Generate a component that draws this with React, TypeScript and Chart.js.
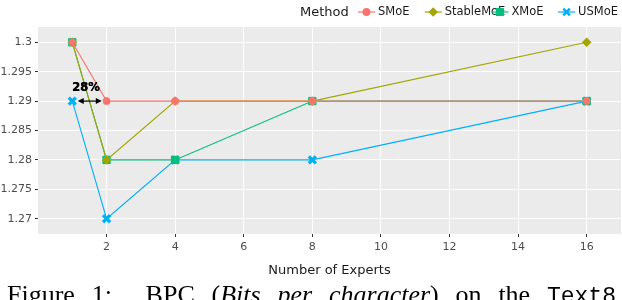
import React, { useEffect, useRef } from 'react';
import { Chart, registerables } from 'chart.js';

Chart.register(...registerables);

// ---- data ----
const experts = [1, 2, 4, 8, 16];
const smoe = [1.3, 1.29, 1.29, 1.29, 1.29];
const stablemoe = [1.3, 1.28, 1.29, 1.29, 1.3];
const xmoe = [1.3, 1.28, 1.28, 1.29, 1.29];
const usmoe = [1.29, 1.27, 1.28, 1.28, 1.29];
const methods = ['SMoE', 'StableMoE', 'XMoE', 'USMoE'];
const seriesValues = [smoe, stablemoe, xmoe, usmoe];
const colors = ['#F8766D', '#A3A500', '#00BF7D', '#00B0F6'];
const pointStyles = ['circle', 'rectRot', 'rect', 'crossRot'];
const xTicks = [2, 4, 6, 8, 10, 12, 14, 16];
const yTicks = [1.27, 1.275, 1.28, 1.285, 1.29, 1.295, 1.3];
const legendTitle = 'Method';
const xTitle = 'Number of Experts';
const annotationText = '28%';
const annotationArrow = [1.16, 1.86];
const annotationY = 1.29;
const annotationLabel = [1.39, 1.2923];

const FONT = '"DejaVu Sans", Verdana, sans-serif';

const bgPlugin = {
  id: 'ggBackground',
  beforeDraw(chart: any) {
    const { ctx, chartArea: a } = chart;
    ctx.save();
    ctx.fillStyle = '#EBEBEB';
    ctx.fillRect(a.left, a.top, a.right - a.left, a.bottom - a.top);
    ctx.restore();
  },
};

function drawMarker(ctx: any, style: string, x: number, y: number, color: string) {
  ctx.save();
  ctx.fillStyle = color;
  ctx.strokeStyle = color;
  ctx.beginPath();
  if (style === 'circle') {
    ctx.arc(x, y, 4, 0, Math.PI * 2);
    ctx.fill();
  } else if (style === 'rectRot') {
    ctx.moveTo(x, y - 4.7);
    ctx.lineTo(x + 4.7, y);
    ctx.lineTo(x, y + 4.7);
    ctx.lineTo(x - 4.7, y);
    ctx.closePath();
    ctx.fill();
  } else if (style === 'rect') {
    ctx.fillRect(x - 4, y - 4, 8, 8);
  } else {
    ctx.lineWidth = 2.5;
    const r = 3.3;
    ctx.moveTo(x - r, y - r);
    ctx.lineTo(x + r, y + r);
    ctx.moveTo(x + r, y - r);
    ctx.lineTo(x - r, y + r);
    ctx.stroke();
  }
  ctx.restore();
}

const legendPlugin = {
  id: 'ggLegend',
  afterDraw(chart: any) {
    const ctx = chart.ctx;
    ctx.save();
    ctx.textBaseline = 'middle';
    ctx.textAlign = 'left';
    ctx.fillStyle = '#1a1a1a';
    ctx.font = `13px ${FONT}`;
    ctx.fillText(legendTitle, 300, 12.5);
    ctx.font = `11.5px ${FONT}`;
    methods.forEach((m, i) => {
      const kx = 358 + i * 66.7;
      const ky = 12;
      ctx.strokeStyle = colors[i];
      ctx.lineWidth = 1.2;
      ctx.beginPath();
      ctx.moveTo(kx, ky);
      ctx.lineTo(kx + 17, ky);
      ctx.stroke();
      drawMarker(ctx, pointStyles[i], kx + 8.5, ky, colors[i]);
      ctx.fillStyle = '#1a1a1a';
      ctx.fillText(m, kx + 20, ky + 0.5);
    });
    ctx.restore();
  },
};

const annotationPlugin = {
  id: 'ggAnnotation',
  afterDatasetsDraw(chart: any) {
    const { ctx, scales } = chart;
    const x1 = scales.x.getPixelForValue(annotationArrow[0]);
    const x2 = scales.x.getPixelForValue(annotationArrow[1]);
    const y = scales.y.getPixelForValue(annotationY);
    ctx.save();
    ctx.strokeStyle = '#000';
    ctx.fillStyle = '#000';
    ctx.lineWidth = 1.2;
    ctx.beginPath();
    ctx.moveTo(x1 + 2, y);
    ctx.lineTo(x2 - 2, y);
    ctx.stroke();
    ctx.beginPath();
    ctx.moveTo(x1, y);
    ctx.lineTo(x1 + 6, y - 3);
    ctx.lineTo(x1 + 6, y + 3);
    ctx.closePath();
    ctx.fill();
    ctx.beginPath();
    ctx.moveTo(x2, y);
    ctx.lineTo(x2 - 6, y - 3);
    ctx.lineTo(x2 - 6, y + 3);
    ctx.closePath();
    ctx.fill();
    ctx.font = `bold 11.5px ${FONT}`;
    ctx.textAlign = 'center';
    ctx.textBaseline = 'middle';
    const lx = scales.x.getPixelForValue(annotationLabel[0]);
    const ly = scales.y.getPixelForValue(annotationLabel[1]);
    ctx.fillText(annotationText, lx, ly);
    ctx.fillText(annotationText, lx + 0.5, ly);
    ctx.restore();
  },
};

export default function App() {
  const canvasRef = useRef<HTMLCanvasElement | null>(null);

  useEffect(() => {
    if (!canvasRef.current) return;
    const datasets = methods.map((m, i) => ({
      label: m,
      data: experts.map((x, j) => ({ x, y: seriesValues[i][j] })),
      borderColor: colors[i],
      backgroundColor: colors[i],
      borderWidth: 1.1,
      pointStyle: pointStyles[i],
      pointRadius: i === 0 ? 3.5 : i === 1 ? 4.3 : i === 2 ? 5.2 : 5,
      pointBorderWidth: i === 3 ? 3.2 : 1,
      pointBackgroundColor: colors[i],
      pointBorderColor: colors[i],
      fill: false,
      tension: 0,
    }));

    const chart = new Chart(canvasRef.current, {
      type: 'line',
      data: { datasets },
      plugins: [bgPlugin, legendPlugin, annotationPlugin],
      options: {
        animation: false,
        responsive: false,
        maintainAspectRatio: false,
        devicePixelRatio: 1,
        layout: { autoPadding: false, padding: { left: 0, top: 27, right: 1, bottom: 0 } },
        plugins: {
          legend: { display: false },
          tooltip: { enabled: false },
        },
        scales: {
          x: {
            type: 'linear',
            min: 0,
            max: 17,
            afterBuildTicks: (s: any) => {
              s.ticks = xTicks.map((v) => ({ value: v }));
            },
            afterFit: (s: any) => {
              s.height = 66;
              s.paddingLeft = 0;
              s.paddingRight = 0;
            },
            grid: {
              color: '#FFFFFF',
              lineWidth: 1,
              drawTicks: true,
              tickLength: 3,
              tickColor: '#333333',
              tickWidth: 1,
            },
            border: { display: false },
            ticks: {
              padding: 4,
              color: '#4D4D4D',
              font: { family: FONT, size: 11 },
              maxRotation: 0,
              callback: (v: any) => String(v),
            },
            title: {
              display: true,
              text: xTitle,
              color: '#1a1a1a',
              font: { family: FONT, size: 13 },
              padding: { top: 0, bottom: 22 },
            },
          },
          y: {
            type: 'linear',
            min: 1.2674,
            max: 1.3026,
            afterBuildTicks: (s: any) => {
              s.ticks = yTicks.map((v) => ({ value: v }));
            },
            afterFit: (s: any) => {
              s.width = 38;
              s.paddingTop = 0;
              s.paddingBottom = 0;
            },
            grid: {
              color: '#FFFFFF',
              lineWidth: 1,
              drawTicks: true,
              tickLength: 3,
              tickColor: '#333333',
              tickWidth: 1,
            },
            border: { display: false },
            ticks: {
              padding: 3,
              color: '#4D4D4D',
              font: { family: FONT, size: 11 },
              callback: (v: any) => String(parseFloat(Number(v).toFixed(3))),
            },
          },
        },
      } as any,
    });
    return () => chart.destroy();
  }, []);

  return (
    <div
      style={{
        position: 'absolute',
        left: 0,
        top: 0,
        width: 622,
        height: 300,
        overflow: 'hidden',
        background: '#fff',
      }}
    >
      <canvas
        ref={canvasRef}
        width={622}
        height={300}
        style={{ position: 'absolute', left: 0, top: 0, width: 622, height: 300 }}
      />
      <div
        style={{
          position: 'absolute',
          left: 7,
          top: 282,
          width: 609,
          fontFamily: '"Liberation Serif", "Times New Roman", serif',
          fontSize: 26,
          lineHeight: '26px',
          color: '#000',
          textAlign: 'justify',
          textAlignLast: 'justify' as any,
        }}
      >
        Figure 1:&nbsp; BPC (<i>Bits per character</i>) on the{' '}
        <span style={{ fontFamily: '"Liberation Mono", monospace', fontSize: 23 }}>Text8</span>
      </div>
    </div>
  );
}
